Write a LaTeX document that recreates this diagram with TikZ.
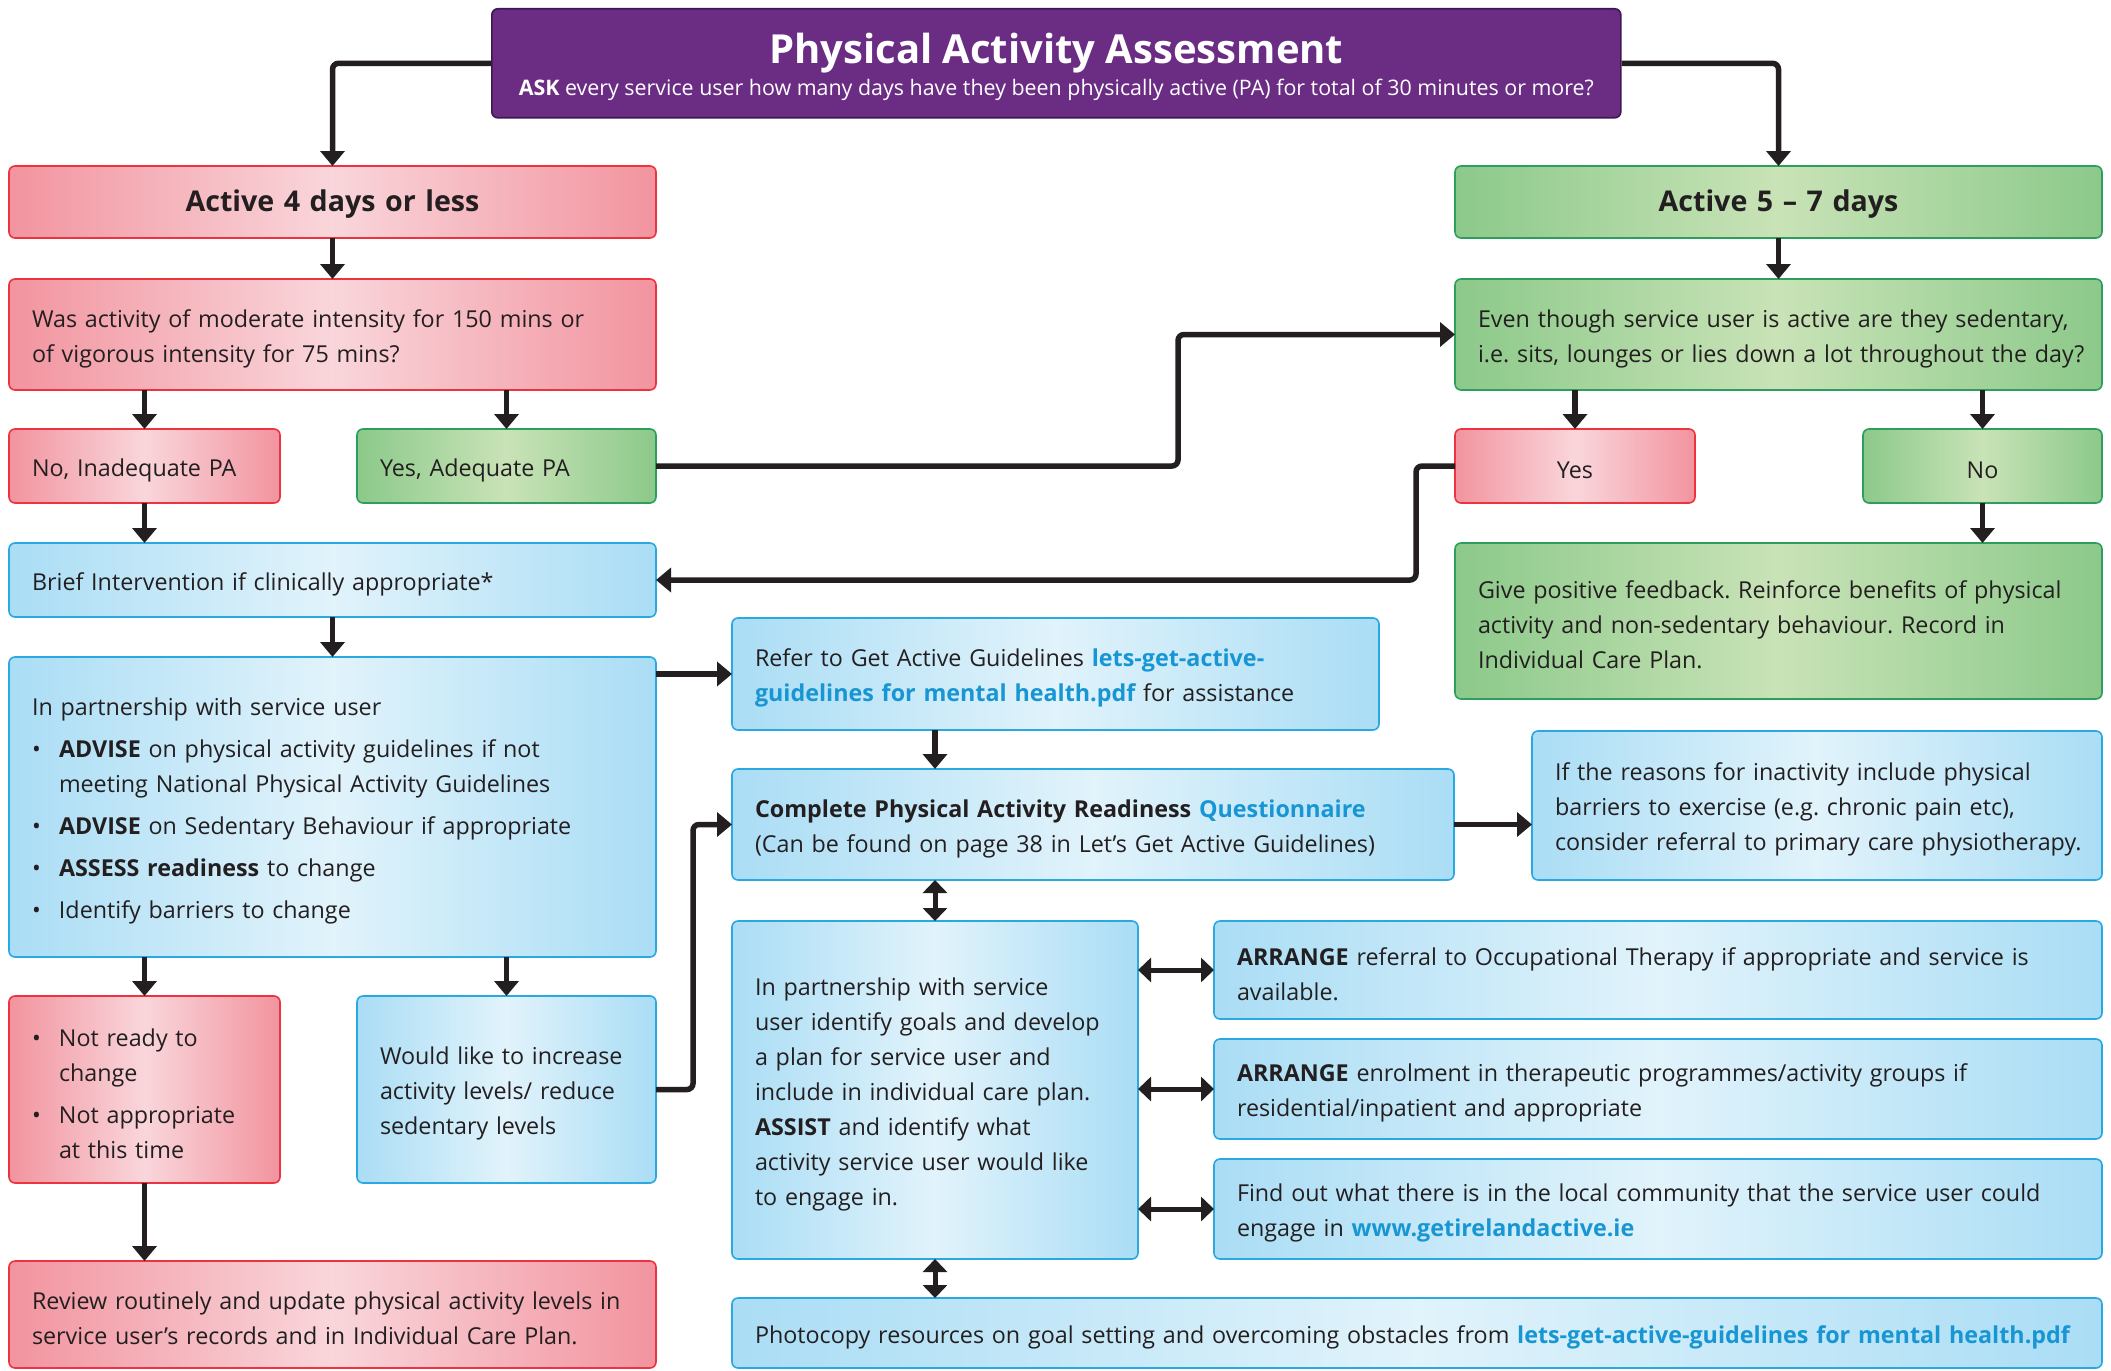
\documentclass[tikz,border=0pt]{standalone}
\usepackage{fontspec}
\setmainfont{Open Sans}
\usetikzlibrary{arrows.meta,calc}
\frenchspacing
\definecolor{ink}{HTML}{231F20}
\definecolor{purp}{HTML}{6B2C84}
\definecolor{purpline}{HTML}{3D1850}
\definecolor{pinkE}{HTML}{F2949F}
\definecolor{pinkM}{HTML}{F9D6DB}
\definecolor{pinkL}{HTML}{EE3340}
\definecolor{greenE}{HTML}{8CC98A}
\definecolor{greenM}{HTML}{C9E3B7}
\definecolor{greenL}{HTML}{2E9E5E}
\definecolor{blueE}{HTML}{AADDF5}
\definecolor{blueM}{HTML}{E1F3FB}
\definecolor{blueL}{HTML}{2AA8E0}
\definecolor{linkc}{HTML}{1896D3}
\newcommand\lnk[1]{\textcolor{linkc}{\bfseries #1}}
\newcommand\bul{\makebox[27pt][l]{\textbullet}}
\newcommand\ind{\hspace*{27pt}}
\newcommand\bx[7]{%
  \pgfmathsetmacro\myBW{#5-#3}\pgfmathsetmacro\myBH{#6-#4}\pgfmathsetmacro\myTW{#5-#3-40}%
  \node[#2, anchor=north west, minimum width=\myBW pt, minimum height=\myBH pt, text width=\myTW pt] (#1) at (#3,#4) {#7};}
\tikzset{
  base/.style={rounded corners=6pt, line width=1.6pt, inner xsep=20pt, inner ysep=0pt, outer sep=0pt,
    text=ink, font=\fontsize{23.3}{35}\selectfont},
  lt/.style={align=left, execute at begin node={\frenchspacing\hyphenpenalty=10000\leftskip=3pt\advance\rightskip -15pt\rule{0pt}{26pt}}},
  ct/.style={align=center, execute at begin node={\rule{0pt}{26pt}}},
  pinkf/.style={draw=pinkL, left color=pinkE, right color=pinkE, middle color=pinkM},
  greenf/.style={draw=greenL, left color=greenE, right color=greenE, middle color=greenM},
  bluef/.style={draw=blueL, left color=blueE, right color=blueE, middle color=blueM},
  pinkbox/.style={base, pinkf, lt},
  greenbox/.style={base, greenf, lt},
  bluebox/.style={base, bluef, lt},
  cbox/.style={base, ct},
  head/.style={cbox, font=\fontsize{28.6}{35}\selectfont\bfseries},
  arr/.style={draw=ink, line width=5.5pt, -{Triangle[width=24pt,length=15pt]}},
  darr/.style={draw=ink, line width=5pt, {Triangle[width=24pt,length=13pt]}-{Triangle[width=24pt,length=13pt]}},
}
\begin{document}
\begin{tikzpicture}[x=1pt,y=-1pt]
\useasboundingbox (0,0) rectangle (2111,1370);
% title
\node[rounded corners=6pt, draw=purpline, fill=purp, line width=1.6pt, anchor=north west,
  minimum width=1129pt, minimum height=109pt, inner sep=0pt, align=center, text=white] (title) at (491,8)
  {{\fontsize{40}{44}\selectfont\bfseries\rule{0pt}{38pt}Physical Activity Assessment}\\[5pt]
   {\fontsize{21.4}{24}\selectfont\textbf{ASK} every service user how many days have they been physically active (PA) for total of 30 minutes or more?}};
% left column
\bx{a4}{head,pinkf}{9}{166}{656}{238}{Active 4 days or less}
\bx{was}{pinkbox}{9}{279}{656}{390}{Was activity of moderate intensity for 150 mins or\\of vigorous intensity for 75 mins?}
\bx{noa}{pinkbox}{9}{429}{280}{503}{No, Inadequate PA}
\bx{yesa}{greenbox}{357}{429}{656}{503}{Yes, Adequate PA}
\bx{brief}{bluebox}{9}{543}{656}{617}{Brief Intervention if clinically appropriate*}
\bx{part}{bluebox}{9}{657}{656}{957}{In partnership with service user\\[7pt]
  \bul\textbf{ADVISE} on physical activity guidelines if not\\
  \ind meeting National Physical Activity Guidelines\\[7pt]
  \bul\textbf{ADVISE} on Sedentary Behaviour if appropriate\\[7pt]
  \bul\textbf{ASSESS readiness} to change\\[7pt]
  \bul Identify barriers to change}
\bx{notr}{pinkbox}{9}{996}{280}{1183}{\bul Not ready to\\\ind change\\[7pt]\bul Not appropriate\\\ind at this time}
\bx{would}{bluebox}{357}{996}{656}{1183}{Would like to increase\\activity levels/ reduce\\sedentary levels}
\bx{review}{pinkbox}{9}{1261}{656}{1368}{Review routinely and update physical activity levels in\\service user’s records and in Individual Care Plan.}
% right column
\bx{a5}{head,greenf}{1455}{166}{2102}{238}{Active 5 – 7 days}
\bx{even}{greenbox}{1455}{279}{2102}{390}{Even though service user is active are they sedentary,\\i.e. sits, lounges or lies down a lot throughout the day?}
\bx{yesb}{cbox,pinkf}{1455}{429}{1695}{503}{Yes}
\bx{nob}{cbox,greenf}{1863}{429}{2102}{503}{No}
\bx{give}{greenbox}{1455}{543}{2102}{699}{Give positive feedback. Reinforce benefits of physical\\activity and non-sedentary behaviour. Record in\\Individual Care Plan.}
% middle
\bx{refer}{bluebox}{732}{618}{1379}{730}{Refer to Get Active Guidelines \lnk{lets-get-active-}\\\lnk{guidelines for mental health.pdf} for assistance}
\bx{parq}{bluebox}{732}{769}{1454}{880}{\textbf{Complete Physical Activity Readiness} \lnk{Questionnaire}\\(Can be found on page 38 in Let’s Get Active Guidelines)}
\bx{reas}{bluebox}{1532}{731}{2102}{880}{If the reasons for inactivity include physical\\barriers to exercise (e.g. chronic pain etc),\\consider referral to primary care physiotherapy.}
\bx{plan}{bluebox}{732}{921}{1138}{1259}{In partnership with service\\user identify goals and develop\\a plan for service user and\\include in individual care plan.\\\textbf{ASSIST} and identify what\\activity service user would like\\to engage in.}
\bx{ot}{bluebox}{1214}{921}{2102}{1019}{\textbf{ARRANGE} referral to Occupational Therapy if appropriate and service is\\available.}
\bx{enrol}{bluebox}{1214}{1039}{2102}{1139}{\textbf{ARRANGE} enrolment in therapeutic programmes/activity groups if\\residential/inpatient and appropriate}
\bx{local}{bluebox}{1214}{1159}{2102}{1259}{Find out what there is in the local community that the service user could\\engage in \lnk{www.getirelandactive.ie}}
\bx{photo}{bluebox}{732}{1298}{2102}{1368}{Photocopy resources on goal setting and overcoming obstacles from \lnk{lets-get-active-guidelines for mental health.pdf}}
% bend points
\coordinate (k1) at (1178,0);
\coordinate (k2) at (1416,0);
\coordinate (k3) at (693,0);
% connectors
\draw[arr, rounded corners=6pt] (title.west) -| (a4.north);
\draw[arr, rounded corners=6pt] (title.east) -| (a5.north);
\draw[arr] (a4.south) -- (was.north);
\draw[arr] (noa.north |- was.south) -- (noa.north);
\draw[arr] (yesa.north |- was.south) -- (yesa.north);
\draw[arr] (noa.south) -- (noa.south |- brief.north);
\draw[arr, rounded corners=6pt] (yesa.east) -| (k1 |- even.west) -- (even.west);
\draw[arr] (a5.south) -- (even.north);
\draw[arr] (yesb.north |- even.south) -- (yesb.north);
\draw[arr] (nob.north |- even.south) -- (nob.north);
\draw[arr] (nob.south) -- (nob.south |- give.north);
\draw[arr, rounded corners=6pt] (yesb.west) -| (k2 |- brief.east) -- (brief.east);
\draw[arr] (brief.south) -- (part.north);
\draw[arr] (part.east |- refer.west) -- (refer.west);
\draw[arr] (notr.north |- part.south) -- (notr.north);
\draw[arr] (would.north |- part.south) -- (would.north);
\draw[arr] (notr.south) -- (notr.south |- review.north);
\draw[arr, rounded corners=6pt] (would.east) -| (k3 |- parq.west) -- (parq.west);
\draw[arr] (plan.north |- refer.south) -- (plan.north |- parq.north);
\draw[arr] (parq.east) -- (reas.west |- parq.east);
\draw[darr] (plan.north |- parq.south) -- (plan.north);
\draw[darr] (plan.east |- ot.west) -- (ot.west);
\draw[darr] (plan.east |- enrol.west) -- (enrol.west);
\draw[darr] (plan.east |- local.west) -- (local.west);
\draw[darr] (plan.south) -- (plan.south |- photo.north);
\end{tikzpicture}
\end{document}
